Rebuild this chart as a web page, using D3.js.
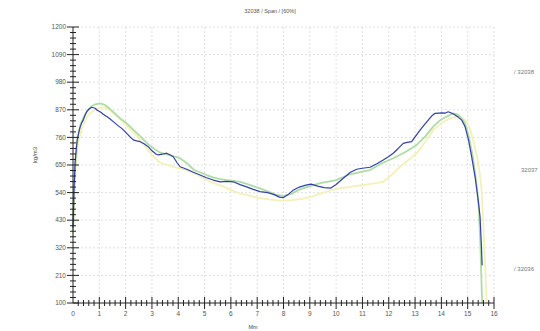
<!DOCTYPE html>
<html>
<head>
<meta charset="utf-8">
<script src="https://cdn.jsdelivr.net/npm/d3@7"></script>
<style>
  html, body { margin: 0; padding: 0; background: #fff; }
  svg { display: block; font-family: "Liberation Sans", Arial, sans-serif; }
</style>
</head>
<body>
<svg id="chart" width="540" height="331"></svg>
<script>
// Density profile along the span, three boards
const title = "32038 / Span / [60%]";
const yLabel = "kg/m3";
const xLabel = "Mm";
const yTicks = [100, 210, 320, 430, 540, 650, 760, 870, 980, 1090, 1200];
const xTicks = [0, 1, 2, 3, 4, 5, 6, 7, 8, 9, 10, 11, 12, 13, 14, 15, 16];
const seriesNames = ["/ 32038", "32037", "/ 32036"];

const blueX = [0.00,0.04,0.08,0.12,0.16,0.22,0.27,0.33,0.39,0.45,0.52,0.60,0.71,0.78,0.84,0.92,1.03,1.15,1.28,1.40,1.53,1.70,1.85,1.95,2.04,2.15,2.29,2.42,2.55,2.70,2.86,2.95,3.05,3.15,3.24,3.40,3.56,3.70,3.81,3.95,4.07,4.20,4.32,4.55,4.83,5.05,5.33,5.59,5.85,6.09,6.35,6.60,6.85,7.11,7.40,7.65,7.85,8.00,8.15,8.35,8.60,8.85,9.05,9.30,9.55,9.80,10.00,10.25,10.53,10.78,11.00,11.29,11.55,11.79,12.00,12.17,12.35,12.55,12.70,12.87,13.00,13.19,13.35,13.50,13.63,13.76,13.90,14.01,14.15,14.26,14.40,14.52,14.65,14.77,14.90,15.03,15.15,15.28,15.40,15.47,15.52,15.55];
const blueY = [400,560,658,710,750,780,801,818,829,846,862,872,880,878,876,868,862,852,843,834,823,808,796,786,776,764,750,746,743,735,723,712,703,694,690,693,697,690,683,660,643,638,633,622,610,600,590,583,585,583,572,563,553,544,540,532,522,520,530,548,562,570,574,566,560,558,572,595,620,633,637,641,655,670,684,697,715,736,740,743,762,789,810,829,845,856,857,858,857,862,856,849,840,829,803,750,683,603,510,444,330,250];

const greenX = [0.00,0.05,0.10,0.18,0.28,0.40,0.55,0.70,0.85,1.03,1.20,1.40,1.60,1.80,2.04,2.30,2.55,2.80,3.05,3.30,3.55,3.80,4.07,4.35,4.60,4.85,5.08,5.35,5.60,5.84,6.10,6.35,6.60,6.85,7.11,7.40,7.70,8.00,8.30,8.60,9.00,9.40,9.80,10.00,10.50,10.90,11.29,11.70,12.17,12.60,13.06,13.40,13.69,13.95,14.20,14.45,14.60,14.71,14.90,15.05,15.20,15.32,15.42,15.48,15.52,15.55];
const greenY = [380,560,680,760,810,840,868,884,892,896,890,874,855,835,816,790,765,738,717,700,692,685,677,655,630,620,610,600,594,590,587,583,575,566,557,545,532,527,535,552,566,578,586,590,612,622,630,655,677,700,730,765,803,828,843,856,852,843,816,760,680,590,480,340,200,100];

const yellowX = [0.00,0.05,0.10,0.20,0.35,0.55,0.80,1.05,1.25,1.50,1.80,2.10,2.40,2.70,3.00,3.30,3.60,3.90,4.20,4.57,4.90,5.30,5.70,6.00,6.35,6.70,7.10,7.50,7.90,8.30,8.70,9.10,9.50,9.90,10.20,10.53,11.00,11.40,11.79,12.10,12.43,12.75,13.06,13.40,13.69,13.95,14.20,14.40,14.58,14.80,14.96,15.10,15.21,15.32,15.40,15.48,15.53,15.60,15.66,15.72];
const yellowY = [360,520,640,740,800,845,870,880,878,860,832,800,770,730,690,660,650,640,633,620,600,580,565,550,537,528,518,512,508,510,515,525,540,552,558,563,570,576,583,610,643,670,697,745,789,812,829,838,843,836,823,790,750,700,657,600,550,400,250,100];

const svg = d3.select("#chart");
const margin = { left: 73, right: 46, top: 27, bottom: 28 };
const W = 540, H = 331;
const x = d3.scaleLinear().domain([0, 16]).range([margin.left, W - margin.right]);
const y = d3.scaleLinear().domain([100, 1200]).range([H - margin.bottom, margin.top]);

// dotted grid
const grid = svg.append("g").attr("stroke", "#d8d8d8").attr("stroke-width", 0.8).attr("stroke-dasharray", "2,2");
grid.selectAll("line.v").data(xTicks.slice(1)).join("line")
  .attr("x1", d => x(d)).attr("x2", d => x(d))
  .attr("y1", y(1200)).attr("y2", y(100));
grid.selectAll("line.h").data(yTicks.slice(1)).join("line")
  .attr("x1", x(0)).attr("x2", x(16))
  .attr("y1", d => y(d)).attr("y2", d => y(d));

// series
const series = [
  { xs: yellowX, ys: yellowY, color: "#f3f1b8", width: 1.8 },
  { xs: greenX, ys: greenY, color: "#afdca6", width: 1.8 },
  { xs: blueX, ys: blueY, color: "#3340a8", width: 1.2 }
];
const line = d3.line().x(d => x(d[0])).y(d => y(d[1]));
series.forEach(s => {
  svg.append("path")
    .datum(s.xs.map((v, i) => [v, s.ys[i]]))
    .attr("fill", "none")
    .attr("stroke", s.color)
    .attr("stroke-width", s.width)
    .attr("stroke-linejoin", "round")
    .attr("d", line);
});

// axes with crossing ticks
const axisColor = "#222";
const yAxis = svg.append("g");
yAxis.append("line").attr("x1", x(0)).attr("x2", x(0)).attr("y1", y(100)).attr("y2", y(1200))
  .attr("stroke", axisColor).attr("stroke-width", 1);
const yMinor = d3.range(100, 1200.1, 22).filter(v => !yTicks.includes(v));
yAxis.selectAll("line.minor").data(yMinor).join("line")
  .attr("x1", x(0) - 3).attr("x2", x(0) + 3)
  .attr("y1", d => y(d)).attr("y2", d => y(d))
  .attr("stroke", axisColor).attr("stroke-width", 1);
yAxis.selectAll("line.major").data(yTicks).join("line")
  .attr("x1", x(0) - 6).attr("x2", x(0) + 6)
  .attr("y1", d => y(d)).attr("y2", d => y(d))
  .attr("stroke", axisColor).attr("stroke-width", 1);
yAxis.selectAll("text").data(yTicks).join("text")
  .attr("x", x(0) - 7).attr("y", d => y(d)).attr("dy", "0.35em")
  .attr("text-anchor", "end").attr("font-size", 6.5).attr("fill", "#555")
  .text(d => d);

const xAxis = svg.append("g");
xAxis.append("line").attr("x1", x(0)).attr("x2", x(16)).attr("y1", y(100)).attr("y2", y(100))
  .attr("stroke", axisColor).attr("stroke-width", 1);
const xMinor = d3.range(0, 16.01, 0.2).filter(v => Math.abs(v - Math.round(v)) > 0.01);
xAxis.selectAll("line.minor").data(xMinor).join("line")
  .attr("x1", d => x(d)).attr("x2", d => x(d))
  .attr("y1", y(100) - 3).attr("y2", y(100) + 3)
  .attr("stroke", axisColor).attr("stroke-width", 1);
xAxis.selectAll("line.major").data(xTicks.slice(1)).join("line")
  .attr("x1", d => x(d)).attr("x2", d => x(d))
  .attr("y1", y(100) - 6).attr("y2", y(100) + 6)
  .attr("stroke", axisColor).attr("stroke-width", 1);
xAxis.selectAll("text").data(xTicks).join("text")
  .attr("x", d => x(d)).attr("y", y(100) + 13)
  .attr("text-anchor", "middle").attr("font-size", 6.5).attr("fill", "#555")
  .text(d => d);

// titles
svg.append("text").attr("x", 270).attr("y", 13).attr("text-anchor", "middle")
  .attr("font-size", 5.5).attr("fill", "#555").text(title);
svg.append("text").attr("transform", "translate(37,155) rotate(-90)")
  .attr("text-anchor", "middle").attr("font-size", 6).attr("fill", "#444").text(yLabel);
svg.append("text").attr("x", 253).attr("y", 329).attr("text-anchor", "middle")
  .attr("font-size", 5.5).attr("fill", "#444").text(xLabel);

// series names on the right
const namePos = [72, 170, 269];
svg.selectAll("text.name").data(seriesNames).join("text")
  .attr("class", "name")
  .attr("x", d => d.startsWith("/") ? 514 : 521)
  .attr("y", (d, i) => namePos[i]).attr("dy", "0.35em")
  .attr("font-size", 6).attr("fill", "#777")
  .text(d => d);
</script>
</body>
</html>
